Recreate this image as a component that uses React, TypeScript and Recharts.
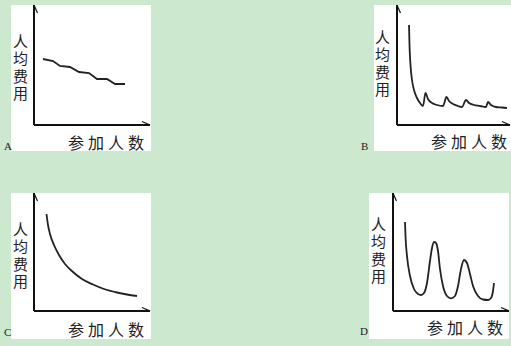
import React from "react";
import { LineChart, Line, XAxis, YAxis } from "recharts";

// panel A: stepped decline
const aPeople = [9, 19, 26, 36, 45, 55, 63, 73, 81, 91];
const aCost = [66, 64, 59, 58, 53, 52, 46, 46, 41, 41];

// panel B: falls fast, then small saw-tooth bumps
const bPeople = [12, 12.5, 13.5, 15, 17, 20, 23, 26, 28.5, 31, 35, 40, 46, 49.5, 52, 56, 61, 65, 69, 72, 77, 83, 89, 91, 94, 99, 105, 110];
const bCost = [100, 80, 60, 45, 35, 27, 22, 19, 32, 26, 22, 20, 19, 28, 24, 21, 19, 18, 25, 22, 20, 19, 18, 23, 20, 18, 17.5, 17];

// panel C: smooth decreasing curve
const cPeople = [12.5, 14, 16, 20, 25, 31, 39, 48, 59, 70, 83, 93, 103];
const cCost = [97, 86, 77, 66, 56, 47, 39, 32, 26.5, 22, 18.5, 16.5, 15];

// panel D: waves
const dPeople = [12, 12.5, 14, 17, 21, 25, 28, 31, 34, 37, 39, 41, 43, 45, 47, 50, 54, 58, 62, 65, 68, 71, 74, 77, 80, 85, 90, 95, 98, 100, 101];
const dCost = [89, 75, 55, 35, 22, 17, 16, 18, 28, 50, 63, 69, 68, 60, 42, 25, 15, 12.7, 15, 25, 42, 51, 48, 37, 25, 15, 11.5, 11, 13, 20, 28];

const letters = ["A", "B", "C", "D"];
const yTitle = "人均费用";
const xTitle = "参加人数";

const toRows = (xs: number[], ys: number[]) => xs.map((x, i) => ({ x, y: ys[i] }));

type PanelProps = {
  id: string;
  left: number;
  top: number;
  width: number;
  height: number;
  margin: { top: number; right: number; bottom: number; left: number };
  xMax: number;
  yMax: number;
  data: { x: number; y: number }[];
  curve: "linear" | "monotone";
};

function Panel({ id, left, top, width, height, margin, xMax, yMax, data, curve }: PanelProps) {
  return (
    <div style={{ position: "absolute", left, top, width, height, background: "#fff" }}>
      <LineChart width={width} height={height} data={data} margin={margin} style={{ overflow: "visible" }}>
        <defs>
          <marker id={`xa-${id}`} markerUnits="userSpaceOnUse" markerWidth={1} markerHeight={1} orient="0" refX={0} refY={0} style={{ overflow: "visible" }}>
            <path d="M0,0 L-8,-3.5" stroke="#111" strokeWidth={1.2} fill="none" />
          </marker>
          <marker id={`ya-${id}`} markerUnits="userSpaceOnUse" markerWidth={1} markerHeight={1} orient="0" refX={0} refY={0} style={{ overflow: "visible" }}>
            <path d="M0,0 L3.5,8" stroke="#111" strokeWidth={1.2} fill="none" />
          </marker>
        </defs>
        <XAxis
          dataKey="x"
          type="number"
          domain={[0, xMax]}
          allowDataOverflow
          height={1}
          tick={false}
          tickLine={false}
          axisLine={{ stroke: "#111", strokeWidth: 2, markerEnd: `url(#xa-${id})` }}
        />
        <YAxis
          type="number"
          domain={[0, yMax]}
          allowDataOverflow
          width={1}
          tick={false}
          tickLine={false}
          axisLine={{ stroke: "#111", strokeWidth: 2, markerStart: `url(#ya-${id})` }}
        />
        <Line
          type={curve}
          dataKey="y"
          stroke="#222"
          strokeWidth={1.8}
          dot={false}
          isAnimationActive={false}
        />
      </LineChart>
    </div>
  );
}

const cjk = '"Noto Sans CJK SC", sans-serif';

function VTitle({ left, top }: { left: number; top: number }) {
  return (
    <div
      style={{
        position: "absolute",
        left,
        top,
        writingMode: "vertical-rl",
        textOrientation: "upright",
        fontFamily: cjk,
        fontSize: 15,
        lineHeight: "17px",
        letterSpacing: 2.3,
        color: "#222",
        whiteSpace: "nowrap",
      }}
    >
      {yTitle}
    </div>
  );
}

function XTitle({ left, top }: { left: number; top: number }) {
  return (
    <div style={{ position: "absolute", left, top, fontFamily: cjk, fontSize: 16, lineHeight: "16px", letterSpacing: 4, color: "#222", whiteSpace: "nowrap" }}>
      {xTitle}
    </div>
  );
}

function Letter({ left, top, text }: { left: number; top: number; text: string }) {
  return (
    <div style={{ position: "absolute", left, top, fontFamily: '"Liberation Serif", serif', fontSize: 11, lineHeight: "11px", color: "#222" }}>
      {text}
    </div>
  );
}

export default function App() {
  return (
    <div style={{ position: "absolute", left: 0, top: 0, width: 511, height: 346, background: "#cce8cf", overflow: "hidden" }}>
      <Panel id="a" left={11} top={5} width={140} height={146} margin={{ top: 0, right: 1, bottom: 25, left: 22 }} xMax={116} yMax={120} data={toRows(aPeople, aCost)} curve="linear" />
      <Panel id="b" left={374} top={5} width={137} height={146} margin={{ top: 0, right: 1, bottom: 25, left: 22 }} xMax={113} yMax={120} data={toRows(bPeople, bCost)} curve="monotone" />
      <Panel id="c" left={11} top={193} width={140} height={146} margin={{ top: 0, right: 1, bottom: 27, left: 22 }} xMax={116} yMax={118} data={toRows(cPeople, cCost)} curve="monotone" />
      <Panel id="d" left={369} top={193} width={140} height={146} margin={{ top: 0, right: 0, bottom: 27, left: 23 }} xMax={116} yMax={118} data={toRows(dPeople, dCost)} curve="monotone" />

      <VTitle left={12} top={34} />
      <VTitle left={374} top={30} />
      <VTitle left={12} top={222} />
      <VTitle left={370} top={217} />

      <XTitle left={68} top={134} />
      <XTitle left={431} top={133} />
      <XTitle left={68} top={321} />
      <XTitle left={427} top={319} />

      <Letter left={4} top={141} text={letters[0]} />
      <Letter left={361} top={141} text={letters[1]} />
      <Letter left={4} top={327} text={letters[2]} />
      <Letter left={360} top={326} text={letters[3]} />
    </div>
  );
}
